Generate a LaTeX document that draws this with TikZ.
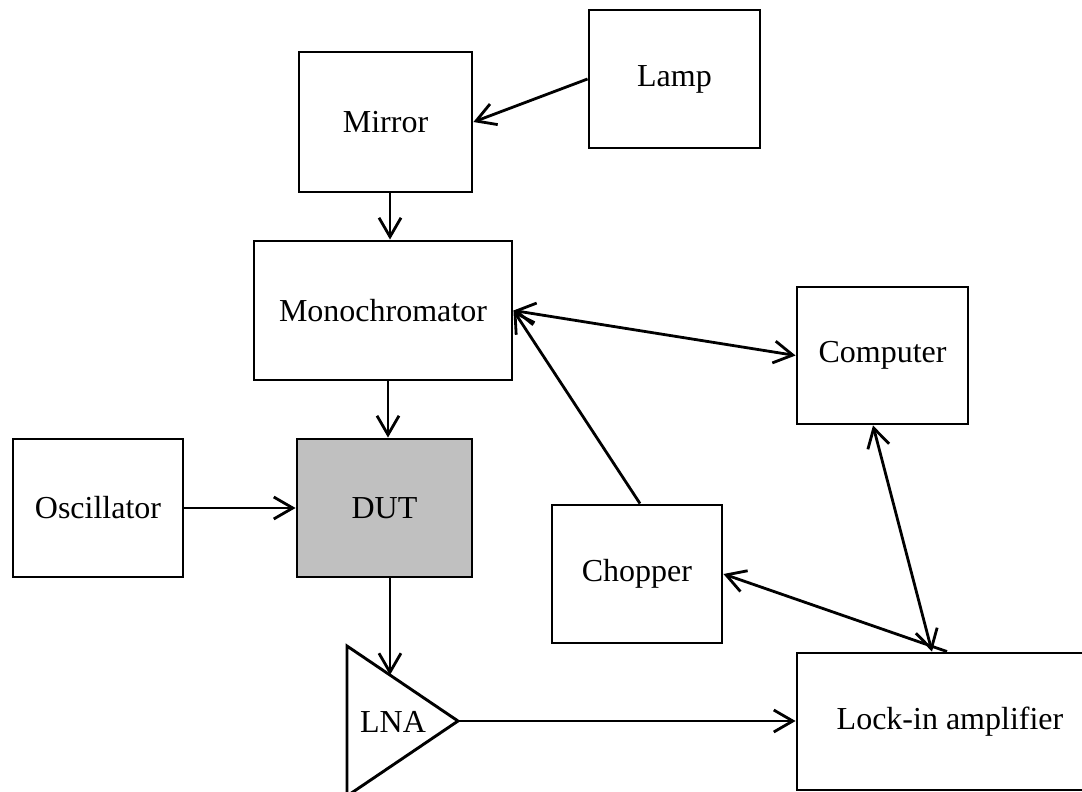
\documentclass[tikz,border=0pt]{standalone}
\usepackage{fontspec}
\setmainfont{Liberation Serif}
\usetikzlibrary{arrows.meta,calc}
\definecolor{dutgray}{RGB}{192,192,192}
\begin{document}
\begin{tikzpicture}[x=0.5pt,y=-0.5pt,
  box/.style={draw, line width=1.45pt, inner sep=0pt, font=\fontsize{16}{19}\selectfont},
  lbl/.style={inner sep=0pt, font=\fontsize{16}{19}\selectfont},
  arr/.style={line width=1.4pt, -{Straight Barb[length=9.5pt,width=11pt]}},
  darr/.style={line width=1.4pt, {Straight Barb[length=9.5pt,width=11pt]}-{Straight Barb[length=9.5pt,width=11pt]}}]
\clip (0,0) rectangle (1082,792);
% boxes
\node[box, minimum width=85.5pt, minimum height=69pt] (lamp) at (674.5,79) {Lamp};
\node[box, minimum width=86.5pt, minimum height=70pt] (mirror) at (385.5,122) {Mirror};
\node[box, minimum width=129pt, minimum height=69.5pt] (mono) at (383,310.5) {Monochromator};
\node[box, minimum width=85pt, minimum height=69pt] (osc) at (98,508) {Oscillator};
\node[box, fill=dutgray, minimum width=87.5pt, minimum height=69pt] (dut) at (384.5,508) {DUT};
\node[box, minimum width=85pt, minimum height=69pt] (chopper) at (637,574) {Chopper};
\node[box, minimum width=85.5pt, minimum height=68.5pt] (computer) at (882.5,355.5) {Computer};
\node[box, minimum width=153pt, minimum height=68.5pt] (lockin) at (950,721.5) {Lock-in amplifier};
% LNA triangle
\coordinate (lnaT) at (347,646);
\coordinate (lnaB) at (347,796);
\coordinate (lnaA) at (458,721);
\draw[line width=1.45pt, line join=miter] (lnaT) -- (lnaA) -- (lnaB) -- cycle;
\node[lbl] (lna) at (393,722) {LNA};
% helper x positions
\coordinate (x390) at (390,0);
\coordinate (x388) at (388,0);
\coordinate (x640) at (640,0);
\coordinate (x947) at (947,0);
\coordinate (x873) at (873,0);
\coordinate (x932) at (932,0);
\coordinate (lnain) at ($(lnaT)!0.387!(lnaA)$);
% connectors
\draw[arr] (lamp.west) -- (mirror.east);
\draw[arr] (mirror.south -| x390) -- (mono.north -| x390);
\draw[arr] (mono.south -| x388) -- (dut.north -| x388);
\draw[arr] (osc.east) -- (dut.west);
\draw[arr] (dut.south -| lnain) -- (lnain);
\draw[arr] (lnaA) -- (lockin.west |- lnaA);
\draw[darr] (mono.east) -- (computer.west);
\draw[arr] (chopper.north -| x640) -- (mono.east);
\draw[arr] (lockin.north -| x947) -- (chopper.east);
\draw[darr] (computer.south -| x873) -- (lockin.north -| x932);
\end{tikzpicture}
\end{document}
